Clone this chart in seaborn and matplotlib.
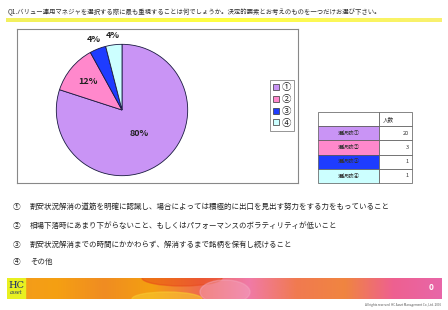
import numpy as np
import matplotlib
matplotlib.use("Agg")
from matplotlib import pyplot as plt
from matplotlib.colors import LinearSegmentedColormap
from matplotlib.patches import Rectangle, Ellipse
import seaborn as sns

title = "Q1.バリュー運用マネジャを選択する際に最も重視することは何でしょうか。決定的要素とお考えのものを一つだけお選び下さい。"
labels = ["①", "②", "③", "④"]
row_names = ["選択肢①", "選択肢②", "選択肢③", "選択肢④"]
counts = [20, 3, 1, 1]
pct_text = ["80%", "12%", "4%", "4%"]
col_head = "人数"
answers = [
    "割安状況解消の道筋を明確に認識し、場合によっては積極的に出口を見出す努力をする力をもっていること",
    "相場下落時にあまり下がらないこと、もしくはパフォーマンスのボラティリティが低いこと",
    "割安状況解消までの時間にかかわらず、解消するまで銘柄を保有し続けること",
    "その他",
]
colors = sns.color_palette(["#C994F5", "#FF88CC", "#1E3CFF", "#CCFFFF"])

sns.set_theme(style="white")
plt.rcParams['font.family'] = ['Noto Sans CJK JP', 'DejaVu Sans']

W, H = 448, 310
fig = plt.figure(figsize=(W / 100, H / 100), dpi=100)
fig.patch.set_facecolor("white")


def px(x, y, w, h):
    return [x / W, 1 - (y + h) / H, w / W, h / H]


# title and yellow rule
fig.text(8 / W, 1 - 12 / H, title, fontsize=4.6, color="#333333", va="center")
line_ax = fig.add_axes(px(6, 18, 436, 4))
grad = np.linspace(0, 1, 256).reshape(1, -1)
line_cmap = LinearSegmentedColormap.from_list("y", ["#F2F060", "#FFFF40", "#F8F070"])
line_ax.imshow(grad, aspect="auto", cmap=line_cmap)
line_ax.axis("off")

# chart frame
frame_ax = fig.add_axes(px(17, 29, 281, 154))
frame_ax.set_xticks([])
frame_ax.set_yticks([])
for s in frame_ax.spines.values():
    s.set_color("#888888")
    s.set_linewidth(0.8)

# pie
ax = fig.add_axes(px(55, 43, 134, 134))
wedges, _ = ax.pie(counts, colors=colors, startangle=90, counterclock=False,
                   wedgeprops=dict(edgecolor="#1a1a40", linewidth=0.6))
dists = [0.45, 0.68, 1.15, 1.15]
for w, t, d in zip(wedges, pct_text, dists):
    ang = np.deg2rad((w.theta1 + w.theta2) / 2)
    ax.text(d * np.cos(ang), d * np.sin(ang), t, ha="center", va="center",
            fontsize=6.5, fontweight="bold", color="#222222")
ax.set_xlim(-1.02, 1.02)
ax.set_ylim(-1.02, 1.02)
ax.set_aspect("equal")
ax.axis("off")

# legend
leg = fig.legend(wedges, labels, loc="upper left", bbox_to_anchor=(270 / W, 1 - 80 / H),
                 fontsize=6.8, frameon=True, fancybox=False, handlelength=0.6,
                 handleheight=0.6, handletextpad=0.25, borderpad=0.35, labelspacing=0.3,
                 borderaxespad=0)
leg.get_frame().set_edgecolor("#666666")
leg.get_frame().set_linewidth(0.6)
for h in leg.legend_handles:
    h.set_edgecolor("#333333")
    h.set_linewidth(0.5)

# data table
tab_ax = fig.add_axes(px(318, 112, 94, 71))
tab_ax.axis("off")
cell_text = [["", col_head]] + [[n, str(c)] for n, c in zip(row_names, counts)]
cell_colors = [["white", "white"]] + [[c, "white"] for c in colors]
tbl = tab_ax.table(cellText=cell_text, cellColours=cell_colors, colWidths=[61 / 94, 33 / 94],
                   bbox=[0, 0, 1, 1])
tbl.auto_set_font_size(False)
for (r, c), cell in tbl.get_celld().items():
    cell.set_edgecolor("#555555")
    cell.set_linewidth(0.5)
    cell.get_text().set_fontsize(4)
    cell.get_text().set_color("#333333")
    if c == 0:
        cell.get_text().set_ha("center")
    elif r == 0:
        cell._loc = "left"
        cell.get_text().set_ha("left")
    else:
        cell._loc = "right"
        cell.get_text().set_ha("right")

# answer list
ys = [207, 226, 245, 262]
for lab, txt, y in zip(labels, answers, ys):
    fig.text(13 / W, 1 - y / H, lab, fontsize=5.5, color="#222222", va="center")
    fig.text(30 / W, 1 - y / H, txt, fontsize=5.4, color="#222222", va="center")

# footer banner
ban = fig.add_axes(px(7, 278, 434, 21))
ban_cmap = LinearSegmentedColormap.from_list(
    "b", ["#F39A1E", "#F5A012", "#F08C22", "#F4A010", "#EF6A50", "#F07AA8",
          "#F07A50", "#F08540", "#EE6090", "#E866A8"])
ban.imshow(grad, aspect="auto", cmap=ban_cmap, extent=[0, 434, 21, 0])
ban.add_patch(Ellipse((175, 0), 80, 16, color="#E84A1A", alpha=0.55))
ban.add_patch(Ellipse((160, 21), 70, 14, color="#F8C830", alpha=0.6))
ban.add_patch(Ellipse((218, 14), 50, 24, color="#F4A8C0", alpha=0.45))
ban.add_patch(Rectangle((0, 0), 18, 21, color="#E8F020"))
ban.text(9, 7, "HC", fontsize=7, color="#1a2a6a", ha="center", va="center", family="serif")
ban.text(9, 15, "asset", fontsize=3.5, color="#1a2a6a", ha="center", va="center",
         style="italic", family="serif")
ban.text(424, 10, "0", fontsize=6, color="white", ha="center", va="center", fontweight="bold")
ban.set_xlim(0, 434)
ban.set_ylim(21, 0)
ban.axis("off")

fig.text(441 / W, 1 - 305 / H, "All rights reserved  HC Asset Management Co.,Ltd. 2006",
         fontsize=2.2, color="#555555", ha="right", va="center")

fig.savefig("out.png", dpi=100, facecolor="white")
